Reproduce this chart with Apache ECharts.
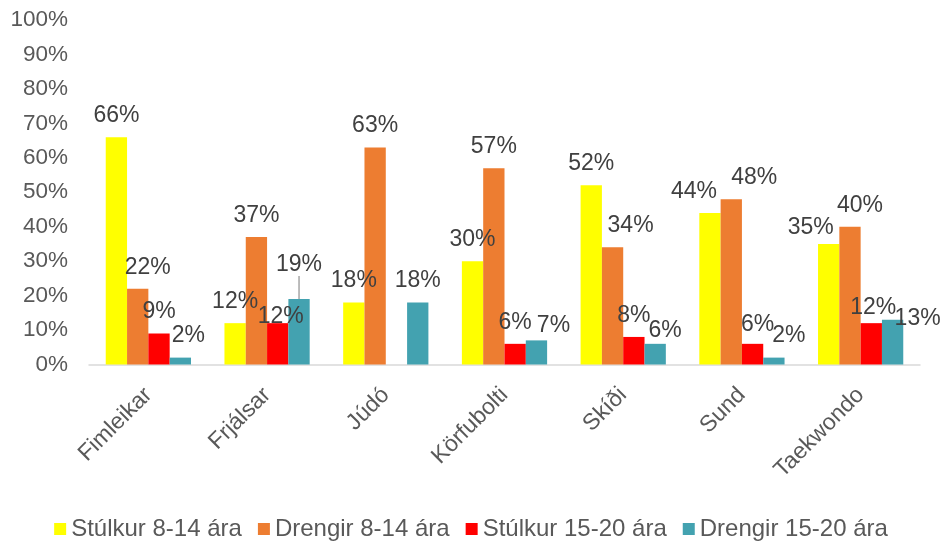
<!DOCTYPE html>
<html><head><meta charset="utf-8">
<script src="https://cdn.jsdelivr.net/npm/echarts@6/dist/echarts.min.js"></script>
<style>html,body{margin:0;padding:0;background:#fff}#c{width:942px;height:541px}</style>
</head><body><div id="c"></div>
<script>
const categories = ['Fimleikar','Frjálsar','Júdó','Körfubolti','Skíði','Sund','Taekwondo'];
const seriesNames = ['Stúlkur 8-14 ára','Drengir 8-14 ára','Stúlkur 15-20 ára','Drengir 15-20 ára'];
const stulkur814 = [66,12,18,30,52,44,35];
const drengir814 = [22,37,63,57,34,48,40];
const stulkur1520 = [9,12,null,6,8,6,12];
const drengir1520 = [2,19,18,7,6,2,13];
const yTicks = [0,10,20,30,40,50,60,70,80,90,100];
const colors = ['#FFFF00','#ED7D31','#FF0000','#43A2B0'];

// label nudges (series index, category index) -> [dx, dy], as placed in the original
const labelNudge = {
  '1,0':[10,0], '3,0':[8,0],
  '2,1':[3,15], '3,1':[0,-13],
  '3,3':[17,7],
  '1,4':[18,0], '3,4':[10,8],
  '0,5':[-16,0], '1,5':[23,0], '2,5':[5,2], '3,5':[15,0],
  '0,6':[-18,5], '1,6':[10,0], '2,6':[2,6], '3,6':[25,20]
};
const leaderLines = ['3,1'];

const chart = echarts.init(document.getElementById('c'));
const data = [stulkur814, drengir814, stulkur1520, drengir1520];
chart.setOption({
  animation:false,
  color:colors,
  textStyle:{fontFamily:'Liberation Sans, Arial, sans-serif'},
  grid:{left:89,right:22,top:20,bottom:176.5,containLabel:false},
  legend:{top:512,left:'center',itemWidth:12,itemHeight:12,itemGap:16,icon:'rect',
    textStyle:{fontSize:24,color:'#595959'},data:seriesNames},
  xAxis:{type:'category',data:categories,
    axisLine:{lineStyle:{color:'#D9D9D9',width:1.5}},axisTick:{show:false},
    axisLabel:{rotate:45,fontSize:23,color:'#595959',margin:27,interval:0}},
  yAxis:{type:'value',min:0,max:100,interval:10,
    axisLine:{show:false},axisTick:{show:false},splitLine:{show:false},
    axisLabel:{formatter:v=>v+'%',fontSize:22.5,color:'#595959',margin:21}},
  series:data.map((d,i)=>({
    name:seriesNames[i],type:'bar',barGap:'0%',barCategoryGap:'28.2%',
    data:d.map((v,j)=>leaderLines.includes(i+','+j)
      ? {value:v,labelLine:{show:true,lineStyle:{color:'#A6A6A6',width:1.5}}}
      : v),
    label:{show:true,position:'top',distance:10,fontSize:23,color:'#404040',
      formatter:p=>p.value==null?'':p.value+'%'},
    labelLine:{show:false},
    labelLayout:p=>{
      const n = labelNudge[p.seriesIndex+','+p.dataIndex];
      return n ? {dx:n[0],dy:n[1]} : {};
    }
  }))
});
</script></body></html>
